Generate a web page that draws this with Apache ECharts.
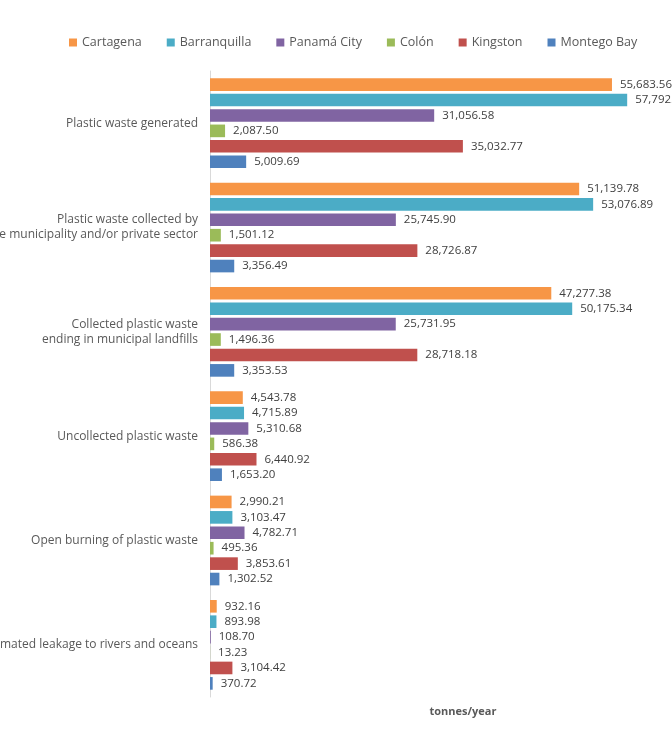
<!DOCTYPE html>
<html>
<head>
<meta charset="utf-8">
<script src="https://cdn.jsdelivr.net/npm/echarts@6/dist/echarts.min.js"></script>
<style>
  html, body { margin: 0; padding: 0; background: #fff; }
  #container { width: 672px; height: 729px; }
</style>
</head>
<body>
<div id="container"></div>
<script>
let chart = echarts.init(document.getElementById('container'));

var categories = [
    'Plastic waste generated',
    'Plastic waste collected by\nthe municipality and/or private sector',
    'Collected plastic waste\nending in municipal landfills',
    'Uncollected plastic waste',
    'Open burning of plastic waste',
    'Estimated leakage to rivers and oceans'
];
var cities = ['Cartagena', 'Barranquilla', 'Panamá City', 'Colón', 'Kingston', 'Montego Bay'];
var colors = ['#F79646', '#4BACC6', '#8064A2', '#9BBB59', '#C0504D', '#4F81BD'];

var cartagena = [55683.56, 51139.78, 47277.38, 4543.78, 2990.21, 932.16];
var barranquilla = [57792.10, 53076.89, 50175.34, 4715.89, 3103.47, 893.98];
var panama = [31056.58, 25745.90, 25731.95, 5310.68, 4782.71, 108.70];
var colon = [2087.50, 1501.12, 1496.36, 586.38, 495.36, 13.23];
var kingston = [35032.77, 28726.87, 28718.18, 6440.92, 3853.61, 3104.42];
var montego = [5009.69, 3356.49, 3353.53, 1653.20, 1302.52, 370.72];

var values = [cartagena, barranquilla, panama, colon, kingston, montego];
var font = 'Open Sans';

function fmt(v) {
    return v.toLocaleString('en-US', {minimumFractionDigits: 2, maximumFractionDigits: 2});
}

var series = cities.map((name, i) => ({
    name: name,
    type: 'bar',
    animation: false,
    data: values[i],
    itemStyle: {color: colors[i]},
    barCategoryGap: '14%',
    barGap: '22%',
    label: {
        show: true,
        position: 'right',
        distance: 8,
        color: '#404040',
        fontFamily: font,
        fontSize: 11.5,
        formatter: p => fmt(p.value)
    }
}));

var option = {
    animation: false,
    color: colors,
    legend: {
        data: cities,
        top: 31,
        left: 64,
        itemWidth: 8,
        itemHeight: 8,
        itemGap: 25,
        itemStyle: {borderWidth: 0},
        icon: 'rect',
        textStyle: {color: '#595959', fontFamily: font, fontSize: 12.5}
    },
    grid: {
        left: 210,
        right: 0,
        top: 71,
        bottom: 32,
        containLabel: false,
        outerBoundsMode: 'none'
    },
    xAxis: {
        type: 'value',
        min: 0,
        max: 64000,
        show: true,
        axisLine: {show: false},
        axisTick: {show: false},
        axisLabel: {show: false},
        splitLine: {show: false},
        name: 'tonnes/year',
        nameLocation: 'middle',
        nameGap: 9,
        nameTextStyle: {
            color: '#595959',
            fontFamily: font,
            fontSize: 11,
            fontWeight: 'bold',
            padding: [0, 0, 0, 44]
        }
    },
    yAxis: {
        type: 'category',
        inverse: true,
        data: categories,
        axisLine: {show: true, lineStyle: {color: '#d9d9d9'}},
        axisTick: {show: false},
        axisLabel: {
            color: '#595959',
            fontFamily: font,
            fontSize: 12,
            lineHeight: 15,
            margin: 12,
            align: 'right'
        }
    },
    series: series
};
chart.setOption(option);
</script>
</body>
</html>
